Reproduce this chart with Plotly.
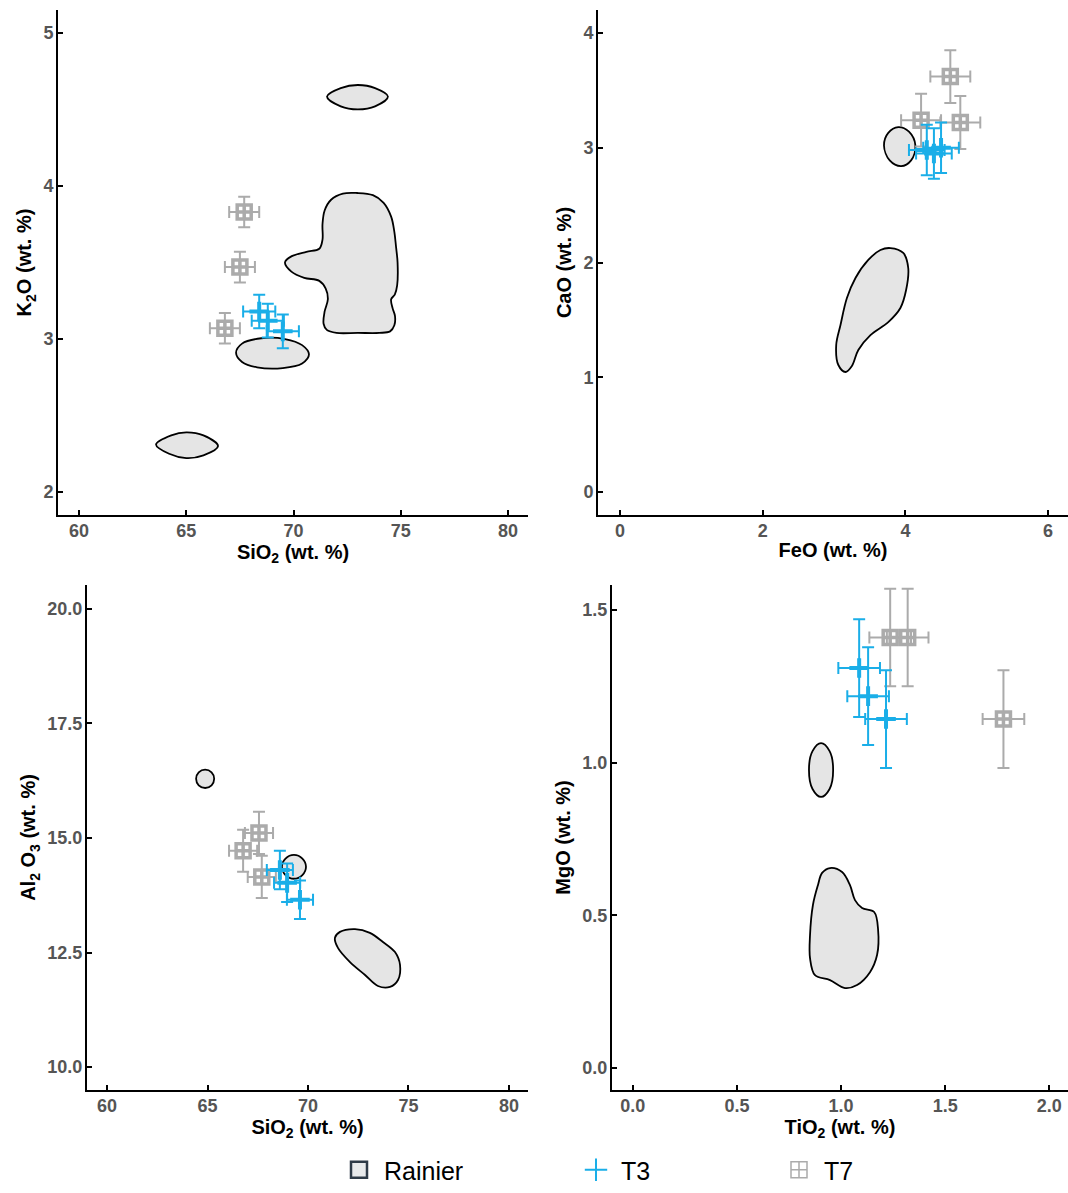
import plotly.graph_objects as go

# ---------------- data ----------------
# Panel A: SiO2 vs K2O
a_t7_x = [67.7, 67.5, 66.8]
a_t7_y = [3.83, 3.47, 3.07]
a_t7_ex = [0.7, 0.7, 0.7]
a_t7_ey = [0.1, 0.1, 0.1]
a_t3_x = [68.4, 68.8, 69.5]
a_t3_y = [3.18, 3.12, 3.05]
a_t3_ex = [0.75, 0.75, 0.75]
a_t3_ey = [0.11, 0.11, 0.11]
a_r1_x = [71.56, 72.2, 73.0, 73.8, 74.4, 73.8, 73.0, 72.2]
a_r1_y = [4.585, 4.64, 4.66, 4.64, 4.585, 4.52, 4.50, 4.52]
a_r2_x = [72.96, 73.7, 74.2, 74.55, 74.7, 74.78, 74.85, 74.83, 74.72, 74.55, 74.62, 74.73, 74.70, 74.5, 74.0,
          73.0, 72.0, 71.55, 71.4, 71.45, 71.6, 71.5, 71.2, 70.5, 69.9, 69.6, 69.9, 70.6, 71.2, 71.35, 71.35, 71.45, 71.75, 72.3]
a_r2_y = [3.954, 3.94, 3.89, 3.80, 3.70, 3.60, 3.50, 3.35, 3.29, 3.26, 3.20, 3.15, 3.09, 3.05, 3.04,
          3.04, 3.04, 3.06, 3.10, 3.18, 3.26, 3.33, 3.38, 3.40, 3.44, 3.50, 3.54, 3.57, 3.59, 3.65, 3.75, 3.84, 3.91, 3.95]
a_r3_x = [67.32, 67.6, 68.5, 69.6, 70.4, 70.72, 70.4, 69.5, 68.3, 67.6]
a_r3_y = [2.91, 2.97, 3.005, 3.0, 2.96, 2.90, 2.84, 2.81, 2.815, 2.85]
a_r4_x = [63.59, 64.3, 65.0, 65.8, 66.48, 65.8, 65.0, 64.2]
a_r4_y = [2.31, 2.37, 2.39, 2.37, 2.30, 2.24, 2.222, 2.25]

# Panel B: FeO vs CaO
b_t7_x = [4.63, 4.22, 4.77]
b_t7_y = [3.62, 3.24, 3.22]
b_t7_ex = [0.28, 0.28, 0.28]
b_t7_ey = [0.23, 0.23, 0.23]
b_t3_x = [4.3, 4.4, 4.5]
b_t3_y = [2.98, 2.95, 3.0]
b_t3_ex = [0.25, 0.25, 0.25]
b_t3_ey = [0.22, 0.22, 0.22]
b_r1_x = [3.70, 3.76, 3.90, 4.05, 4.14, 4.08, 3.94, 3.78]
b_r1_y = [3.02, 3.13, 3.18, 3.14, 3.02, 2.89, 2.84, 2.89]
b_r2_x = [3.79, 3.97, 4.04, 4.01, 3.93, 3.76, 3.51, 3.34, 3.25, 3.16, 3.06, 3.03, 3.09, 3.18, 3.30, 3.48, 3.65]
b_r2_y = [2.126, 2.083, 1.952, 1.760, 1.604, 1.481, 1.368, 1.238, 1.098, 1.046, 1.107, 1.281, 1.455, 1.69, 1.865, 2.022, 2.109]

# Panel C: SiO2 vs Al2O3
c_t7_x = [67.56, 66.77, 67.7]
c_t7_y = [15.11, 14.72, 14.15]
c_t7_ex = [0.7, 0.7, 0.7]
c_t7_ey = [0.46, 0.46, 0.46]
c_t3_x = [68.6, 68.96, 69.6]
c_t3_y = [14.30, 14.02, 13.65]
c_t3_ex = [0.65, 0.65, 0.65]
c_t3_ey = [0.42, 0.42, 0.42]
c_r1_x = [64.43, 64.56, 64.88, 65.2, 65.33, 65.2, 64.88, 64.56]
c_r1_y = [16.29, 16.43, 16.49, 16.43, 16.29, 16.15, 16.09, 16.15]
c_r2_x = [68.7, 68.88, 69.3, 69.72, 69.9, 69.72, 69.3, 68.88]
c_r2_y = [14.37, 14.55, 14.63, 14.55, 14.37, 14.19, 14.11, 14.19]
c_r3_x = [71.59, 72.34, 73.08, 73.73, 74.33, 74.58, 74.48, 74.08, 73.48, 72.84, 72.09, 71.49, 71.34]
c_r3_y = [12.95, 13.01, 12.93, 12.73, 12.51, 12.23, 11.90, 11.75, 11.77, 12.01, 12.29, 12.60, 12.82]

# Panel D: TiO2 vs MgO
d_t7_x = [1.236, 1.32, 1.78]
d_t7_y = [1.41, 1.41, 1.143]
d_t7_ex = [0.1, 0.1, 0.1]
d_t7_ey = [0.16, 0.16, 0.16]
d_t3_x = [1.087, 1.13, 1.216]
d_t3_y = [1.31, 1.218, 1.143]
d_t3_ex = [0.1, 0.1, 0.1]
d_t3_ey = [0.16, 0.16, 0.16]
d_r1_x = [0.846, 0.863, 0.904, 0.945, 0.962, 0.945, 0.904, 0.863]
d_r1_y = [0.976, 1.038, 1.064, 1.038, 0.976, 0.914, 0.888, 0.914]
d_r2_x = [0.947, 1.005, 1.043, 1.067, 1.101, 1.159, 1.178, 1.173, 1.139, 1.077, 1.019, 0.947, 0.875, 0.851, 0.851, 0.865, 0.889, 0.909]
d_r2_y = [0.655, 0.642, 0.599, 0.550, 0.524, 0.511, 0.452, 0.370, 0.314, 0.272, 0.262, 0.288, 0.304, 0.360, 0.435, 0.534, 0.599, 0.639]

x_titles = ["SiO<sub>2</sub> (wt. %)", "FeO (wt. %)", "SiO<sub>2</sub> (wt. %)", "TiO<sub>2</sub> (wt. %)"]
y_titles = ["K<sub>2</sub>O (wt. %)", "CaO (wt. %)", "Al<sub>2</sub> O<sub>3</sub> (wt. %)", "MgO (wt. %)"]
legend_names = ["Rainier", "T3", "T7"]

# ---------------- style ----------------
BLUE = "#1AAEE8"
GRAY = "#ABABAB"
FILL = "#E5E5E5"
FONT = "Liberation Sans"

fig = go.Figure()

panels = [
    ("x", "y", [(a_r1_x, a_r1_y), (a_r2_x, a_r2_y), (a_r3_x, a_r3_y), (a_r4_x, a_r4_y)],
     (a_t7_x, a_t7_y, a_t7_ex, a_t7_ey), (a_t3_x, a_t3_y, a_t3_ex, a_t3_ey)),
    ("x2", "y2", [(b_r1_x, b_r1_y), (b_r2_x, b_r2_y)],
     (b_t7_x, b_t7_y, b_t7_ex, b_t7_ey), (b_t3_x, b_t3_y, b_t3_ex, b_t3_ey)),
    ("x3", "y3", [(c_r1_x, c_r1_y), (c_r2_x, c_r2_y), (c_r3_x, c_r3_y)],
     (c_t7_x, c_t7_y, c_t7_ex, c_t7_ey), (c_t3_x, c_t3_y, c_t3_ex, c_t3_ey)),
    ("x4", "y4", [(d_r1_x, d_r1_y), (d_r2_x, d_r2_y)],
     (d_t7_x, d_t7_y, d_t7_ex, d_t7_ey), (d_t3_x, d_t3_y, d_t3_ex, d_t3_ey)),
]

for xa, ya, polys, t7, t3 in panels:
    for px, py in polys:
        fig.add_trace(go.Scatter(
            x=list(px) + [px[0]], y=list(py) + [py[0]], xaxis=xa, yaxis=ya,
            mode="lines", fill="toself", fillcolor=FILL,
            line=dict(color="black", width=1.8, shape="spline", smoothing=1.0),
            showlegend=False, hoverinfo="skip"))
    fig.add_trace(go.Scatter(
        x=t7[0], y=t7[1], xaxis=xa, yaxis=ya, mode="markers",
        marker=dict(symbol="square-cross-open", size=14, color=GRAY, line=dict(width=3.5, color=GRAY)),
        error_x=dict(type="data", array=t7[2], color=GRAY, thickness=2, width=6),
        error_y=dict(type="data", array=t7[3], color=GRAY, thickness=2, width=6),
        showlegend=False))
    fig.add_trace(go.Scatter(
        x=t3[0], y=t3[1], xaxis=xa, yaxis=ya, mode="markers",
        marker=dict(symbol="cross-thin-open", size=14, color=BLUE, line=dict(width=4, color=BLUE)),
        error_x=dict(type="data", array=t3[2], color=BLUE, thickness=2, width=6),
        error_y=dict(type="data", array=t3[3], color=BLUE, thickness=2, width=6),
        showlegend=False))

# legend entries (one legend box per entry so each can be placed)
fig.add_trace(go.Scatter(x=[None], y=[None], mode="markers", name=legend_names[0], legend="legend",
                         marker=dict(symbol="square", size=22, color="#E8EAEC", line=dict(width=2.5, color="#2E3B48"))))
fig.add_trace(go.Scatter(x=[None], y=[None], mode="markers", name=legend_names[1], legend="legend2",
                         marker=dict(symbol="cross-thin-open", size=26, color=BLUE, line=dict(width=2, color=BLUE))))
fig.add_trace(go.Scatter(x=[None], y=[None], mode="markers", name=legend_names[2], legend="legend3",
                         marker=dict(symbol="square-cross-open", size=22, color=GRAY, line=dict(width=1.5, color=GRAY))))

W, H = 1068, 1193
def fx(p): return p / W
def fy(p): return 1 - p / H

axis_common = dict(showline=True, linecolor="black", linewidth=2, ticks="inside", ticklen=5,
                   tickwidth=2, tickcolor="black", showgrid=False, zeroline=False, automargin=False,
                   tickfont=dict(family=FONT, size=18, color="#555555", weight="bold"),
                   title_font=dict(family=FONT, size=20, color="black", weight="bold"))
xcommon = dict(ticklabelstandoff=-2, **axis_common)
ycommon = dict(ticklabelstandoff=-1, **axis_common)

layout_axes = dict(
    xaxis=dict(domain=[fx(58), fx(528)], range=[59.02, 80.93], tickvals=[60, 65, 70, 75, 80], anchor="y",
               title=dict(text=x_titles[0], standoff=3), **xcommon),
    yaxis=dict(domain=[fy(515), fy(10)], range=[1.85, 5.15], tickvals=[2, 3, 4, 5], anchor="x",
               title=dict(text=y_titles[0], standoff=6), **ycommon),
    xaxis2=dict(domain=[fx(598), 1.0], range=[-0.31, 6.28], tickvals=[0, 2, 4, 6], anchor="y2",
                title=dict(text=x_titles[1], standoff=3), **xcommon),
    yaxis2=dict(domain=[fy(515), fy(10)], range=[-0.2, 4.2], tickvals=[0, 1, 2, 3, 4], anchor="x2",
                title=dict(text=y_titles[1], standoff=6), **ycommon),
    xaxis3=dict(domain=[fx(87), fx(528)], range=[59.0, 80.95], tickvals=[60, 65, 70, 75, 80], anchor="y3",
                title=dict(text=x_titles[2], standoff=3), **xcommon),
    yaxis3=dict(domain=[fy(1090), fy(585)], range=[9.5, 20.52], tickvals=[10, 12.5, 15, 17.5, 20],
                ticktext=["10.0", "12.5", "15.0", "17.5", "20.0"], anchor="x3",
                title=dict(text=y_titles[2], standoff=6), **ycommon),
    xaxis4=dict(domain=[fx(612), 1.0], range=[-0.1, 2.09], tickvals=[0, 0.5, 1.0, 1.5, 2.0],
                ticktext=["0.0", "0.5", "1.0", "1.5", "2.0"], anchor="y4",
                title=dict(text=x_titles[3], standoff=3), **xcommon),
    yaxis4=dict(domain=[fy(1090), fy(585)], range=[-0.072, 1.582], tickvals=[0, 0.5, 1.0, 1.5],
                ticktext=["0.0", "0.5", "1.0", "1.5"], anchor="x4",
                title=dict(text=y_titles[3], standoff=6), **ycommon),
)

leg_common = dict(orientation="h", yanchor="bottom", xanchor="left", y=0.0,
                  font=dict(family=FONT, size=25, color="black"), itemsizing="trace",
                  itemwidth=40, bgcolor="rgba(0,0,0,0)")

fig.update_layout(
    width=W, height=H, margin=dict(l=0, r=0, t=0, b=0),
    paper_bgcolor="white", plot_bgcolor="white",
    showlegend=True,
    legend=dict(x=fx(334), **leg_common),
    legend2=dict(x=fx(571), **leg_common),
    legend3=dict(x=fx(774), **leg_common),
    **layout_axes)

fig.write_html("out.html")
